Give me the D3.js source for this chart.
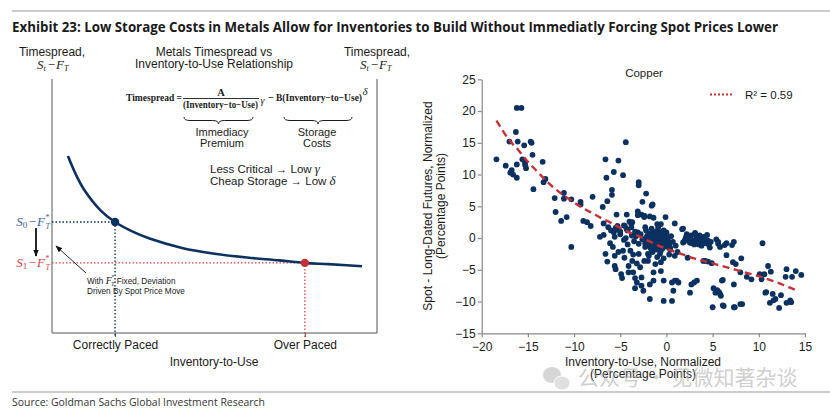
<!DOCTYPE html>
<html><head><meta charset="utf-8">
<script src="https://cdn.jsdelivr.net/npm/d3@7"></script>
<style>body{margin:0;background:#fff}svg{display:block}</style>
</head><body>
<svg id="c" width="830" height="411"></svg>
<script>
// ---------- DATA ----------
const titleText = "Exhibit 23: Low Storage Costs in Metals Allow for Inventories to Build Without Immediatly Forcing Spot Prices Lower";
const sourceText = "Source: Goldman Sachs Global Investment Research";

// Left panel: conceptual curve (arbitrary units)
const curveX = [0.49, 0.75, 1.0, 1.5, 1.94, 2.5, 3.0, 4.0, 5.0, 6.0, 7.0, 7.78, 8.5, 9.54];
const curveY = [6.97, 6.2, 5.62, 4.82, 4.37, 3.98, 3.72, 3.35, 3.12, 2.97, 2.86, 2.76, 2.71, 2.63];
const paceLabels = ["Correctly Paced", "Over Paced"];
const paceX = [1.94, 7.78];
const paceY = [4.37, 2.76];

// Right panel: Copper scatter
const copperX = [
-18.4,-17.4,-17.0,-16.9,-16.75,-16.6,-16.2,-16.2,-15.7,-16.3,-16.1,-16.2,-15.6,-15.3,-15.4,-14.7,-14.6,-14.5,-15.2,-15.3,-14.4,-13.4,-13.1,-13.3,-12.1,-11.1,-11.1,-12.0,-11.4,-10.8,-10.3,-10.3,-9.3,-9.3,-9.0,-8.6,-8.2,-8.0,
-6.6,-6.5,-5.7,-5.2,-4.7,-4.4,-5.9,-5.9,-6.4,-6.9,-5.4,-4.3,-3.0,-3.0,-2.2,-2.6,-1.5,-3.1,-3.1,-2.7,-2.4,-1.8,-1.4,-1.0,-0.6,-0.1,0.9,1.8,3.1,3.6,-3.7,-2.4,
-7.2,-6.8,-6.6,-6.4,-6.3,-6.1,-5.7,-5.6,-5.6,-5.6,-5.5,-5.3,-5.2,-5.0,-4.9,-4.8,-4.7,-4.55,-4.5,-4.4,-4.3,-4.1,-4.1,-3.9,-3.8,-3.75,-3.7,-3.6,-3.4,-3.4,-3.2,-3.1,-3.0,-3.0,-2.85,-2.7,-2.7,-2.5,-2.4,-2.3,-2.25,-2.1,-2.0,-2.0,-1.8,-1.8,-1.6,-1.5,-1.5,-1.4,-1.4,-1.2,-1.0,-0.9,-0.8,-0.7,-0.6,-0.4,-0.3,-0.3,-0.1,-0.1,0.0,0.2,0.4,0.6,0.6,0.75,0.9,1.1,1.3,1.7,1.8,2.2,2.3,2.55,2.7,3.0,3.3,
-2.0,-1.8,-1.6,-1.4,-1.3,-1.2,-1.1,-1.0,-1.0,-0.9,-0.8,-0.8,-0.7,-0.6,-0.5,-0.5,-0.4,-0.3,-0.2,-0.1,0.0,0.1,0.2,0.3,0.4,-1.9,-1.7,-1.5,-1.3,-1.1,-0.9,-0.6,-2.3,-2.6,-2.8,-3.3,-3.5,-2.2,-1.6,-0.9,-0.3,0.5,0.7,1.0,1.2,0.9,0.3,-0.3,-0.6,-1.0,-1.9,-2.4,-3.2,-3.6,-4.2,-4.6,-5.8,-5.2,
2.55,2.9,3.1,3.4,3.6,3.8,4.5,4.7,5.4,5.6,2.0,2.3,3.0,3.3,4.0,4.2,4.4,4.8,3.9,2.7,
5.6,5.8,6.3,6.5,7.3,7.1,10.4,6.5,4.0,4.9,7.2,7.5,8.1,8.0,8.7,9.2,6.1,7.3,5.1,5.5,5.7,5.8,5.0,6.1,7.3,8.0,8.2,
10.1,10.6,11.0,11.3,10.3,13.0,14.0,14.6,13.6,12.9,10.8,11.5,12.4,11.8,11.2,11.6,12.2,13.0,13.4,13.5,4.2,4.5,2.55,5.3,5.9,6.2,3.1,6.0,7.4,10.7,
-2.3,-2.0,-1.7,-1.5,-1.2,-0.9,-0.6,-0.3,0.0,0.3,-2.1,-1.8,-1.4,-1.1,-0.7,-0.4,-0.1,0.2,-1.6,-1.0,
1.9,2.4,2.8,3.2,3.5,3.9,4.3,4.6,2.1,3.7,
-6.0,-5.5,-5.0,-4.6,-4.2,-3.8,-3.4,-6.8,-4.0];
const copperY = [
12.4,11.4,15.2,10.3,10.7,10.0,9.5,20.5,20.5,16.7,15.2,11.6,12.4,11.9,14.6,15.2,15.0,13.1,11.0,11.5,7.7,12.0,9.3,8.8,6.3,7.1,6.2,4.1,2.7,3.3,6.1,-1.4,5.7,5.3,2.7,2.5,1.9,6.5,
12.4,9.5,10.4,12.2,9.9,15.1,7.6,6.8,5.8,4.9,3.7,3.7,8.8,8.3,7.0,5.7,5.3,4.2,3.6,3.7,3.5,3.4,3.2,2.2,2.2,3.3,2.3,1.5,0.8,0.4,2.5,3.3,
0.2,0.5,-2.5,-3.7,1.7,-0.8,0.9,0.2,-2.8,-4.4,-4.9,1.9,1.3,0.6,-5.7,-6.3,-2.0,-3.1,1.9,0.0,1.4,-4.4,-5.4,-2.0,2.2,0.4,-3.6,-5.4,-6.3,-7.9,-7.0,0.9,-0.9,-2.5,-4.6,-6.2,-7.5,-8.3,3.5,1.7,0.0,-0.7,-2.5,-3.6,-7.3,-9.6,5.1,0.4,-1.5,-5.4,-6.7,-4.1,-0.4,0.9,0.2,-2.5,-5.2,0.6,-6.7,-9.9,-0.2,-0.9,0.9,-0.9,-1.5,-7.0,-9.9,-8.3,-6.7,-6.7,-7.0,1.4,-0.7,0.6,-3.1,-8.6,-7.3,-7.0,-6.7,
0.5,0.2,-0.3,0.8,0.3,-0.5,1.0,0.5,-0.2,0.1,0.7,-0.6,0.3,-0.3,0.9,0.1,-0.7,0.4,-0.2,0.6,-1.0,0.2,-0.5,-1.1,-1.8,-1.0,-1.6,-2.2,-1.2,-1.8,-1.3,-2.0,-1.4,-0.2,0.6,0.3,-0.5,1.2,1.5,1.6,1.2,0.3,-0.6,-1.2,-2.2,-2.8,-2.6,-3.2,-3.8,-3.0,-2.8,-3.6,-4.0,-2.6,-1.0,-0.3,-1.4,-2.2,
-0.7,-0.4,0.6,-0.9,-0.2,-1.2,-0.4,-1.5,-0.2,-0.9,-0.3,0.3,-1.0,0.1,0.2,-0.8,0.5,-0.6,-0.5,0.4,
-0.6,-1.4,-1.1,-0.8,-0.6,-1.1,-0.8,-2.7,-3.6,-3.95,-3.8,-4.1,-3.2,-5.4,-6.1,-6.5,-6.6,-7.3,-7.9,-8.2,-8.5,-8.8,-10.9,-10.6,-10.9,-10.4,-10.4,
-5.7,-5.7,-4.4,-5.3,-6.5,-4.9,-5.2,-5.8,-6.1,-6.1,-8.5,-8.8,-9.0,-9.6,-10.2,-9.8,-11.0,-10.2,-9.8,-10.1,-3.6,-3.7,-0.7,-8.6,-9.1,-10.7,0.6,-6.7,-10.9,-8.6,
-0.8,-0.4,-1.0,0.0,-0.6,-0.2,-0.9,-0.5,-1.3,-0.8,0.3,0.7,0.4,0.2,0.0,-1.6,-1.1,-1.4,-1.8,-1.7,
-0.6,-0.2,-0.8,-0.4,-1.0,-0.7,-0.3,-1.1,0.1,0.0,
1.2,1.6,1.0,2.0,1.2,1.7,1.0,2.3,2.6];

// Fitted trend
const trendX = [-18.4,-17,-16,-15,-14,-13,-12,-11,-10,-9,-8,-7,-6,-5,-4,-3,-2,-1,0,1,2,3,4,5,6,7,8,9,10,11,12,13,14];
const trendY = [18.5,15.4,13.8,12.0,10.5,9.0,7.7,6.6,5.6,4.7,3.9,3.1,2.4,1.6,0.9,0.3,-0.4,-1.1,-1.7,-2.2,-2.7,-3.2,-3.6,-4.0,-4.4,-4.8,-5.2,-5.6,-6.0,-6.5,-7.0,-7.6,-8.2];
const yTicks = [-15,-10,-5,0,5,10,15,20,25];
const xTicks = [-20,-15,-10,-5,0,5,10,15];
const legendText = "R² = 0.59";

// ---------- DRAW ----------
const NAVY = "#0b3160", RED = "#c62f36", LBLUE = "#3a62a0", LRED = "#d9434a";
const svg = d3.select("#c");
const sans = "'Liberation Sans', Arial, sans-serif";
const serif = "'Liberation Serif', 'Times New Roman', serif";

// header / footer
svg.append("line").attr("x1",12).attr("x2",830).attr("y1",11).attr("y2",11).attr("stroke","#9a9a9a").attr("stroke-width",1.2);
svg.append("text").attr("x",12).attr("y",32).text(titleText)
  .attr("font-family","'Open Sans', Lato, sans-serif").attr("font-weight","bold").attr("font-size",13.5)
  .attr("fill","#1a1a1a").attr("textLength",766).attr("lengthAdjust","spacingAndGlyphs");
svg.append("line").attr("x1",12).attr("x2",830).attr("y1",392).attr("y2",392).attr("stroke","#9a9a9a").attr("stroke-width",1.2);
svg.append("text").attr("x",12).attr("y",406).text(sourceText)
  .attr("font-family","'Open Sans', sans-serif").attr("font-size",10).attr("fill","#333")
  .attr("textLength",253).attr("lengthAdjust","spacingAndGlyphs");

const defs = svg.append("defs");
defs.append("marker").attr("id","ah2").attr("viewBox","0 0 10 10").attr("refX",9).attr("refY",5)
  .attr("markerWidth",7).attr("markerHeight",7).attr("markerUnits","userSpaceOnUse").attr("orient","auto")
  .append("path").attr("d","M0,1L10,5L0,9z").attr("fill","#111");

// ===== LEFT PANEL =====
const L = svg.append("g");
const xL = d3.scaleLinear([0,10],[52,377]);
const yL = d3.scaleLinear([0,10],[333,79]);

function txt(g,x,y,s,opt={}){
  return g.append("text").attr("x",x).attr("y",y).text(s)
    .attr("font-family",opt.family||sans).attr("font-size",opt.size||12)
    .attr("text-anchor",opt.anchor||"middle").attr("fill",opt.fill||"#1a1a1a")
    .attr("font-style",opt.style||null).attr("font-weight",opt.weight||null);
}
txt(L,52,56,"Timespread,");
txt(L,377,56,"Timespread,");
txt(L,214,56,"Metals Timespread vs");
txt(L,214,68,"Inventory-to-Use Relationship");

// S_t - F_T labels
function stft(g, x, y){
  const t = g.append("text").attr("x",x).attr("y",y).attr("font-family",serif).attr("font-size",13).attr("fill","#1a1a1a");
  t.append("tspan").attr("font-style","italic").text("S");
  t.append("tspan").attr("font-style","italic").attr("font-size",8).attr("dy",2).text("t");
  t.append("tspan").attr("dy",-2).attr("dx",2).text("−");
  t.append("tspan").attr("font-style","italic").attr("dx",1).text("F");
  t.append("tspan").attr("font-style","italic").attr("font-size",8).attr("dy",2).text("T");
}
stft(L,37,69);
stft(L,360,69);

// box
L.append("path").attr("d",`M${xL(0)},${yL(10)}V${yL(0)}H${xL(10)}V${yL(10)}`).attr("fill","none").attr("stroke","#555").attr("stroke-width",1);
// axis with category ticks
const axL = d3.axisBottom(xL).tickValues(paceX).tickSize(4).tickFormat((d,i)=>paceLabels[i]);
const gax = L.append("g").attr("transform",`translate(0,${yL(0)})`).call(axL);
gax.select(".domain").remove();
gax.selectAll(".tick line").attr("stroke","#555");
gax.selectAll(".tick text").attr("font-family",sans).attr("font-size",12).attr("fill","#1a1a1a").attr("dy",0).attr("y",16);
txt(L,214,366,"Inventory-to-Use");

// formula
const fy = 101;
txt(L,126,fy,"Timespread =",{family:serif,weight:"bold",size:10.5,anchor:"start"}).attr("textLength",56).attr("lengthAdjust","spacingAndGlyphs");
txt(L,221,96,"A",{family:serif,weight:"bold",size:10.5});
L.append("line").attr("x1",183).attr("x2",259).attr("y1",98.5).attr("y2",98.5).attr("stroke","#1a1a1a").attr("stroke-width",0.9);
txt(L,183,107.5,"(Inventory−to−Use)",{family:serif,weight:"bold",size:10.5,anchor:"start"}).attr("textLength",75).attr("lengthAdjust","spacingAndGlyphs");
txt(L,260.5,104,"γ",{family:serif,style:"italic",size:10,anchor:"start"});
txt(L,268,fy,"−",{family:serif,weight:"bold",size:10.5,anchor:"start"});
txt(L,276,fy,"B(Inventory−to−Use)",{family:serif,weight:"bold",size:10.5,anchor:"start"}).attr("textLength",86).attr("lengthAdjust","spacingAndGlyphs");
txt(L,362.5,95,"δ",{family:serif,style:"italic",size:11,anchor:"start"});

function brace(g,x1,x2,y,h){
  const m=(x1+x2)/2, r=6, hy=y+h/2;
  g.append("path").attr("d",`M${x1},${y}Q${x1},${hy} ${x1+r},${hy}L${m-r},${hy}Q${m},${hy} ${m},${y+h}Q${m},${hy} ${m+r},${hy}L${x2-r},${hy}Q${x2},${hy} ${x2},${y}`)
   .attr("fill","none").attr("stroke","#1a1a1a").attr("stroke-width",1);
}
brace(L,184,253,117,7);
brace(L,284,352,117,7);
txt(L,222,136,"Immediacy",{size:11});
txt(L,222,147,"Premium",{size:11});
txt(L,317,136,"Storage",{size:11});
txt(L,317,147,"Costs",{size:11});
const l1 = txt(L,210,173,"Less Critical → Low ",{size:11.5,anchor:"start"});
l1.append("tspan").attr("font-family",serif).attr("font-style","italic").attr("font-size",13).text("γ");
const l2 = txt(L,210,185,"Cheap Storage → Low ",{size:11.5,anchor:"start"});
l2.append("tspan").attr("font-family",serif).attr("font-style","italic").attr("font-size",13).text("δ");

// dotted guides
L.append("path").attr("d",`M${xL(0)},${yL(paceY[0])}H${xL(paceX[0])}V${yL(0)+4}`).attr("fill","none").attr("stroke",NAVY).attr("stroke-width",1.3).attr("stroke-dasharray","1.5,2");
L.append("path").attr("d",`M${xL(0)},${yL(paceY[1])}H${xL(paceX[1])}V${yL(0)+4}`).attr("fill","none").attr("stroke",LRED).attr("stroke-width",1.3).attr("stroke-dasharray","1.5,2");

// curve
const cdata = curveX.map((x,i)=>[x,curveY[i]]);
L.append("path").datum(cdata).attr("fill","none").attr("stroke",NAVY).attr("stroke-width",2.6)
  .attr("d",d3.line().x(d=>xL(d[0])).y(d=>yL(d[1])).curve(d3.curveCatmullRom));
L.append("circle").attr("cx",xL(paceX[0])).attr("cy",yL(paceY[0])).attr("r",4.2).attr("fill",NAVY);
L.append("circle").attr("cx",xL(paceX[1])).attr("cy",yL(paceY[1])).attr("r",4.2).attr("fill",RED);

// S0/S1 labels
function sflab(g,x,y,sub,col){
  const t = g.append("text").attr("x",x).attr("y",y).attr("font-family",serif).attr("font-size",13).attr("fill",col).attr("text-anchor","end");
  t.append("tspan").attr("font-style","italic").text("S");
  t.append("tspan").attr("font-size",9).attr("dy",2).text(sub);
  t.append("tspan").attr("dy",-2).attr("dx",1.5).text("−");
  t.append("tspan").attr("font-style","italic").attr("dx",1).text("F");
  t.append("tspan").attr("font-size",8).attr("dy",-6).attr("dx",0.5).text("*");
  t.append("tspan").attr("font-style","italic").attr("font-size",8).attr("dy",9).attr("dx",-4).text("T");
}
sflab(L,50,226,"0",LBLUE);
sflab(L,50,267,"1",LRED);

// arrows
L.append("line").attr("x1",36).attr("x2",36).attr("y1",228).attr("y2",256).attr("stroke","#111").attr("stroke-width",1.8).attr("marker-end","url(#ah2)");
L.append("line").attr("x1",86).attr("y1",273).attr("x2",56).attr("y2",246).attr("stroke","#111").attr("stroke-width",0.9).attr("marker-end","url(#ah2)");
const w1 = txt(L,87,284,"With ",{size:8.2,anchor:"start"});
w1.append("tspan").attr("font-family",serif).attr("font-style","italic").attr("font-size",10).text("F");
w1.append("tspan").attr("font-size",6).attr("dy",-5).text("*");
w1.append("tspan").attr("font-family",serif).attr("font-style","italic").attr("font-size",6).attr("dy",7).attr("dx",-3).text("T");
w1.append("tspan").attr("dy",-2).text(" Fixed, Deviation");
txt(L,87,294,"Driven By Spot Price Move",{size:8.2,anchor:"start"});

// ===== RIGHT PANEL =====
const R = svg.append("g");
const xR = d3.scaleLinear([-20,15],[481.7,805]);
const yR = d3.scaleLinear([-15,25],[333.3,79.3]);
const gy = R.append("g").attr("transform",`translate(${xR(-20)},0)`).call(d3.axisLeft(yR).tickValues(yTicks).tickSize(4).tickSizeOuter(0));
const gx = R.append("g").attr("transform",`translate(0,${yR(-15)})`).call(d3.axisBottom(xR).tickValues(xTicks).tickSize(4).tickSizeOuter(0));
[gy,gx].forEach(g=>{
  g.selectAll(".domain,.tick line").attr("stroke","#8a8a8a").attr("stroke-width",1.2);
  g.selectAll(".tick text").attr("font-family",sans).attr("font-size",12).attr("fill","#1a1a1a");
});
gy.selectAll(".tick text").attr("x",-6);
gx.selectAll(".tick text").attr("y",9);

txt(R,644,77,"Copper",{size:11.5});
txt(R,643,366,"Inventory-to-Use, Normalized");
txt(R,643,378,"(Percentage Points)");
txt(R,0,0,"Spot - Long-Dated Futures, Normalized").attr("transform","translate(432,206) rotate(-90)");
txt(R,0,0,"(Percentage Points)").attr("transform","translate(445,206) rotate(-90)");

// scatter
const pts = copperX.map((x,i)=>[x,copperY[i]]);
R.append("g").selectAll("circle").data(pts).join("circle")
  .attr("cx",d=>xR(d[0])).attr("cy",d=>yR(d[1])).attr("r",2.9).attr("fill",NAVY);

// trend
const tdata = trendX.map((x,i)=>[x,trendY[i]]);
R.append("path").datum(tdata).attr("fill","none").attr("stroke",RED).attr("stroke-width",2.4)
  .attr("stroke-dasharray","7,4.5")
  .attr("d",d3.line().x(d=>xR(d[0])).y(d=>yR(d[1])).curve(d3.curveMonotoneX));

// legend
R.append("line").attr("x1",710).attr("x2",734).attr("y1",94.5).attr("y2",94.5).attr("stroke",RED).attr("stroke-width",2).attr("stroke-dasharray","2,2");
txt(R,745,99,legendText,{size:11.5,anchor:"start"});

// watermark
const wm = svg.append("g").attr("opacity",0.55);
wm.append("ellipse").attr("cx",552).attr("cy",375).attr("rx",9).attr("ry",8).attr("fill","#b5b5b5");
wm.append("ellipse").attr("cx",562).attr("cy",383).attr("rx",8).attr("ry",7).attr("fill","#c8c8c8").attr("stroke","#fff").attr("stroke-width",1);
wm.append("text").attr("x",578).attr("y",385).text("公众号 · 见微知著杂谈")
  .attr("font-family","'Noto Sans CJK SC', sans-serif").attr("font-size",21).attr("fill","#aaa");
</script>
</body></html>
